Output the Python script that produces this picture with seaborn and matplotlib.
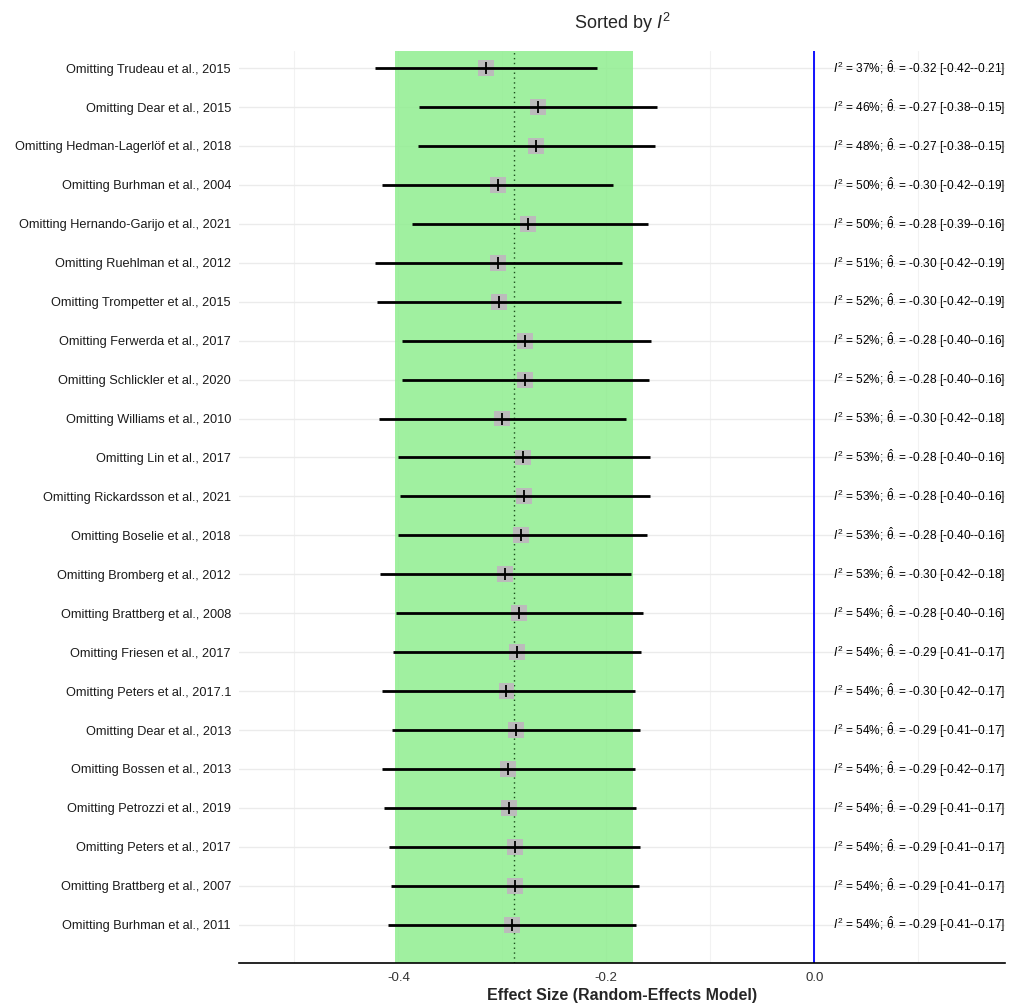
import numpy as np
import matplotlib
matplotlib.use("Agg")
import matplotlib.pyplot as plt
import matplotlib.transforms as mtransforms
import seaborn as sns

# ==========================================================
# Leave-one-out results (sorted by I^2)
# ==========================================================
studies = [
    "Omitting Trudeau et al., 2015",
    "Omitting Dear et al., 2015",
    "Omitting Hedman-Lagerlöf et al., 2018",
    "Omitting Burhman et al., 2004",
    "Omitting Hernando-Garijo et al., 2021",
    "Omitting Ruehlman et al., 2012",
    "Omitting Trompetter et al., 2015",
    "Omitting Ferwerda et al., 2017",
    "Omitting Schlickler et al., 2020",
    "Omitting Williams et al., 2010",
    "Omitting Lin et al., 2017",
    "Omitting Rickardsson et al., 2021",
    "Omitting Boselie et al., 2018",
    "Omitting Bromberg et al., 2012",
    "Omitting Brattberg et al., 2008",
    "Omitting Friesen et al., 2017",
    "Omitting Peters et al., 2017.1",
    "Omitting Dear et al., 2013",
    "Omitting Bossen et al., 2013",
    "Omitting Petrozzi et al., 2019",
    "Omitting Peters et al., 2017",
    "Omitting Brattberg et al., 2007",
    "Omitting Burhman et al., 2011",
]
i2 = [37, 46, 48, 50, 50, 51, 52, 52, 52, 53, 53, 53,
      53, 53, 54, 54, 54, 54, 54, 54, 54, 54, 54]
estimate = [-0.316, -0.2657, -0.2674, -0.3042, -0.2753, -0.3041, -0.3032, -0.278,
            -0.2785, -0.3003, -0.2804, -0.2795, -0.2817, -0.2974, -0.2836, -0.2858,
            -0.296, -0.2866, -0.2942, -0.2936, -0.2878, -0.2878, -0.2907]
lower = [-0.4227, -0.3804, -0.3812, -0.4155, -0.3866, -0.4227, -0.4208, -0.396,
         -0.396, -0.4186, -0.4006, -0.398, -0.4006, -0.4173, -0.4022, -0.4054,
         -0.4155, -0.4061, -0.4155, -0.4138, -0.4087, -0.4074, -0.4103]
upper = [-0.2086, -0.1515, -0.1534, -0.1935, -0.1599, -0.1852, -0.1855, -0.1572,
         -0.1585, -0.1811, -0.158, -0.1583, -0.1605, -0.1762, -0.1644, -0.1663,
         -0.1727, -0.1673, -0.1721, -0.1715, -0.1676, -0.169, -0.1715]

# pooled random-effects estimate and its CI
pooled_est = -0.289
pooled_lower = -0.4032
pooled_upper = -0.174

# ==========================================================
# Style
# ==========================================================
sns.set_style("white")
plt.rcParams["font.family"] = ["Liberation Sans", "DejaVu Sans"]
plt.rcParams["mathtext.fontset"] = "custom"
plt.rcParams["mathtext.rm"] = "Liberation Sans"
plt.rcParams["mathtext.it"] = "Liberation Sans:italic"

fig, ax = plt.subplots(figsize=(10.21, 10.07), dpi=100)
fig.subplots_adjust(left=0.2344, right=0.9843, bottom=0.0434, top=0.9494)

pos = np.arange(len(studies))

# grid (ggplot-like, major + minor)
ax.set_xticks([-0.4, -0.2, 0.0])
ax.set_xticks([-0.5, -0.3, -0.1, 0.1], minor=True)
ax.set_xticklabels(["-0.4", "-0.2", "0.0"])
ax.grid(axis="x", which="major", color="#EBEBEB", lw=1.0, zorder=0)
ax.grid(axis="x", which="minor", color="#F2F2F2", lw=0.8, zorder=0)
ax.set_yticks(pos)
ax.set_yticklabels(studies)
ax.grid(axis="y", color="#EBEBEB", lw=1.0, zorder=0)
ax.set_axisbelow(True)

# pooled CI band + pooled estimate + zero line
ax.axvspan(pooled_lower, pooled_upper, color="#90EE90", alpha=0.85, lw=0, zorder=1)
ax.axvline(pooled_est, color="#1d4d1d", ls=(0, (1, 2.5)), lw=1.0, zorder=2)
ax.axvline(0, color="blue", lw=1.3, zorder=2)

# point estimates: grey square
sns.scatterplot(x=estimate, y=pos, marker="s", s=130, color="#BBBBBB",
                edgecolor="none", ax=ax, zorder=3, legend=False)

# confidence intervals
ax.hlines(pos, lower, upper, color="black", lw=2.0, zorder=4)

# black bar at the estimate
sns.scatterplot(x=estimate, y=pos, marker="|", s=70, color="black",
                linewidth=1.3, ax=ax, zorder=5, legend=False)

# annotations on the right
trans = mtransforms.blended_transform_factory(ax.transAxes, ax.transData)
for p, iv, e, lo, hi in zip(pos, i2, estimate, lower, upper):
    label = (r"$I^2$ = " + f"{iv}%; " + r"$\hat{\mathrm{\theta}}_{\cdot}$" +
             f" = {e:.2f} [{lo:.2f}-{hi:.2f}]")
    ax.text(1.0, p, label, transform=trans, ha="right", va="center",
            fontsize=8.6, color="black")

ax.set_xlim(-0.5529, 0.1834)
ax.set_ylim(22.99, -0.44)

for side in ["left", "right", "top"]:
    ax.spines[side].set_visible(False)
ax.spines["bottom"].set_color("black")
ax.spines["bottom"].set_linewidth(1.2)

ax.tick_params(axis="y", length=0, pad=6, labelsize=9.2, labelcolor="#1a1a1a")
ax.tick_params(axis="x", which="major", length=3, color="#333333",
               labelsize=9.5, labelcolor="#333333", pad=3)
ax.tick_params(axis="x", which="minor", length=0)

ax.set_xlabel("Effect Size (Random-Effects Model)", fontsize=11.5,
              fontweight="bold", labelpad=3)
ax.set_ylabel("")
ax.set_title("Sorted by $I^2$", fontsize=13, pad=16)

plt.savefig("out.png", dpi=100)
